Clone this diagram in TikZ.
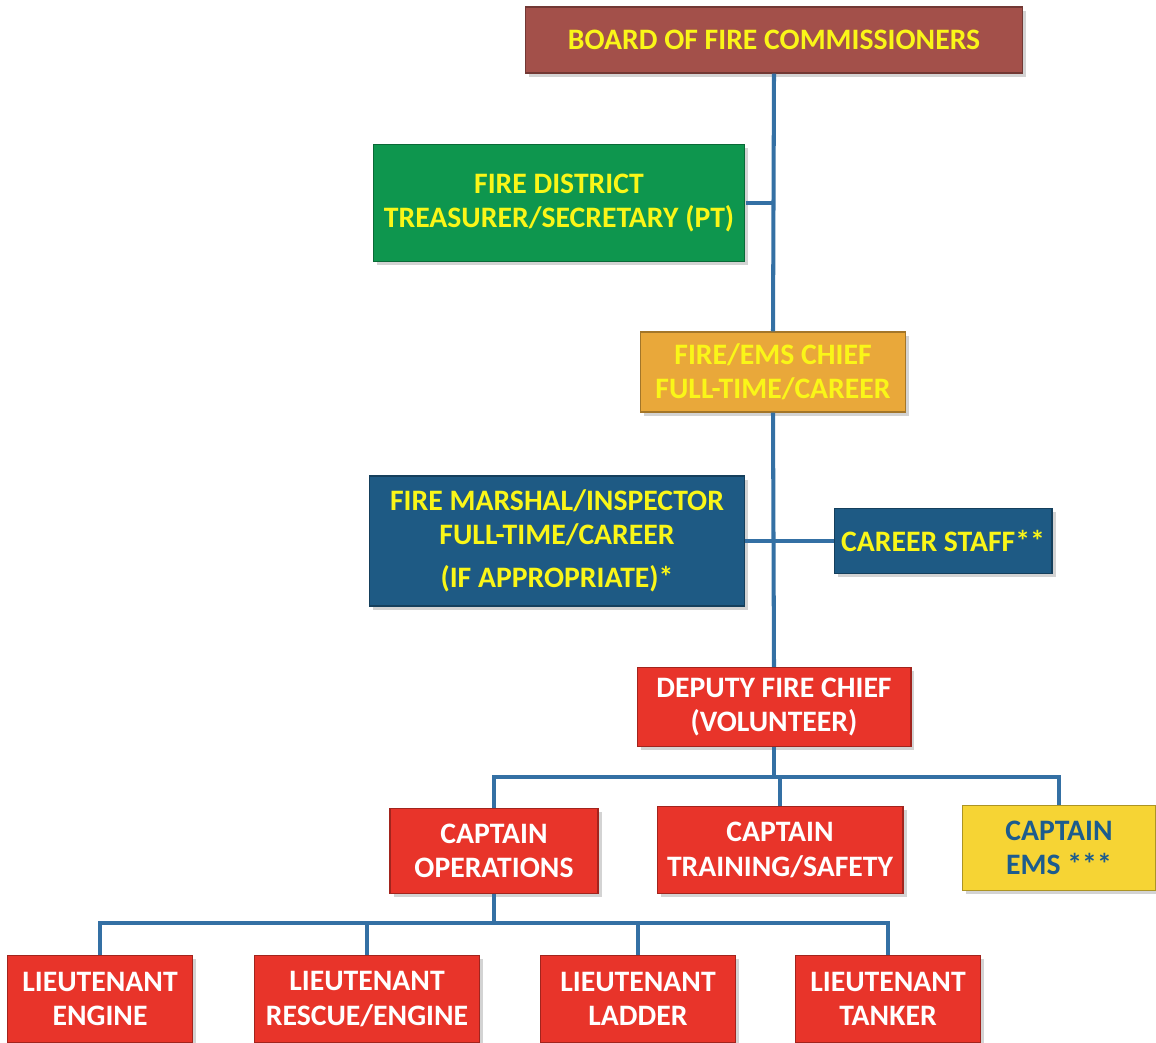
\documentclass[tikz,border=0pt]{standalone}
\usepackage{fontspec}
\setmainfont{Carlito}
\usepackage{xcolor}
\usepackage{tikz}
\usetikzlibrary{shadows}

\definecolor{boardbrown}{RGB}{163,80,74}
\definecolor{distgreen}{RGB}{14,150,78}
\definecolor{chieforange}{RGB}{233,168,58}
\definecolor{marshalblue}{RGB}{30,90,132}
\definecolor{volred}{RGB}{232,52,42}
\definecolor{emsyellow}{RGB}{246,212,52}
\definecolor{txtyellow}{RGB}{250,246,24}
\definecolor{txtblue}{RGB}{28,92,142}
\definecolor{linkblue}{RGB}{52,112,164}

\tikzset{
  post/.style={draw=#1!70!black, fill=#1, line width=0.6pt, align=center,
    inner sep=2pt, font=\fontsize{16.9}{19.5}\selectfont\bfseries,
    drop shadow={shadow xshift=2pt, shadow yshift=-2pt, opacity=0.35}},
  orgline/.style={draw=linkblue, line width=2.3pt}
}

\begin{document}
\begin{tikzpicture}[x=0.02cm, y=-0.02cm]
			\useasboundingbox (0,0) rectangle (1156,1042);
			
			% Top levels
			\node[post=boardbrown, text=txtyellow, minimum width=9.96cm, minimum height=1.32cm] (board) at (774,40) {BOARD OF FIRE COMMISSIONERS};
			\node[post=distgreen, text=txtyellow, minimum width=7.44cm, minimum height=2.34cm] (treasurer) at (559,203) {FIRE DISTRICT\\TREASURER/SECRETARY (PT)};
			\node[post=chieforange, text=txtyellow, minimum width=5.3cm, minimum height=1.6cm] (chief) at (773,372) {FIRE/EMS CHIEF\\FULL-TIME/CAREER};
			\node[post=marshalblue, text=txtyellow, minimum width=7.52cm, minimum height=2.6cm] (marshal) at (557,541) {FIRE MARSHAL/INSPECTOR\\FULL-TIME/CAREER\\[5pt](IF APPROPRIATE)*};
			\node[post=marshalblue, text=txtyellow, minimum width=4.36cm, minimum height=1.3cm] (staff) at (943,541) {CAREER STAFF**};
			\node[post=volred, text=white, minimum width=5.48cm, minimum height=1.58cm] (deputy) at (774,707) {DEPUTY FIRE CHIEF\\(VOLUNTEER)};
			
			% Captains
			\node[post=volred, text=white, minimum width=4.16cm, minimum height=1.7cm] (capops) at (494,851) {CAPTAIN\\OPERATIONS};
			\node[post=volred, text=white, minimum width=4.92cm, minimum height=1.74cm] (captrain) at (780,850) {CAPTAIN\\TRAINING/SAFETY};
			\node[post=emsyellow, text=txtblue, minimum width=3.88cm, minimum height=1.7cm] (capems) at (1059,848) {CAPTAIN\\EMS ***};
			
			% Lieutenants
			\node[post=volred, text=white, minimum width=3.7cm, minimum height=1.74cm] (ltengine) at (100,999) {LIEUTENANT\\ENGINE};
			\node[post=volred, text=white, minimum width=4.5cm, minimum height=1.74cm] (ltrescue) at (367,999) {LIEUTENANT\\RESCUE/ENGINE};
			\node[post=volred, text=white, minimum width=3.9cm, minimum height=1.74cm] (ltladder) at (638,999) {LIEUTENANT\\LADDER};
			\node[post=volred, text=white, minimum width=3.7cm, minimum height=1.74cm] (lttanker) at (888,999) {LIEUTENANT\\TANKER};
			
			% Connectors
			\coordinate (capbus) at (774,777);
			\coordinate (ltbus) at (494,923);
			\draw[orgline] (board.south) -- (chief.north);
			\draw[orgline] (chief.south) -- (deputy.north);
			\draw[orgline] (treasurer.east) -- (treasurer.east -| board.south);
			\draw[orgline] (marshal.east) -- (staff.west);
			\draw[orgline] (deputy.south) -- (capbus);
			\draw[orgline] (capops.north) |- (capbus) -| (capems.north);
			\draw[orgline] (captrain.north) -- (captrain.north |- capbus);
			\draw[orgline] (capops.south) -- (ltbus);
			\draw[orgline] (ltengine.north) |- (ltbus) -| (lttanker.north);
			\draw[orgline] (ltrescue.north) -- (ltrescue.north |- ltbus);
			\draw[orgline] (ltladder.north) -- (ltladder.north |- ltbus);
		\end{tikzpicture}
\end{document}
